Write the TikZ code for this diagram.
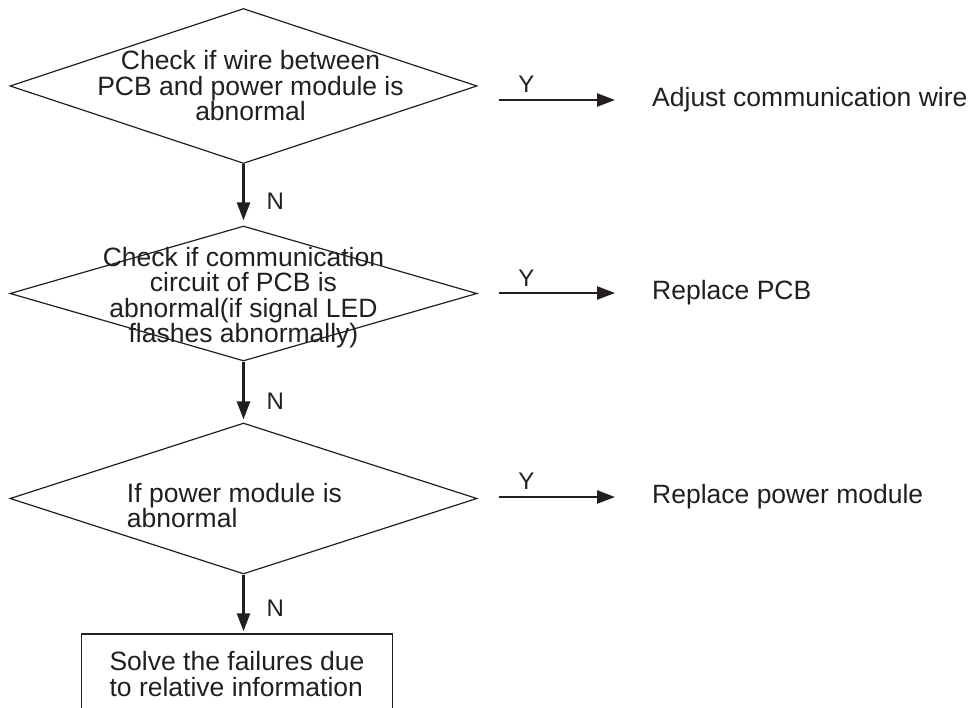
\documentclass[tikz,border=0pt]{standalone}
\usepackage{fontspec}
\setmainfont{Liberation Sans}
\usepackage{xcolor}
\usetikzlibrary{shapes.geometric,arrows.meta,positioning,calc}
\definecolor{ink}{RGB}{35,31,32}

\begin{document}
\begin{tikzpicture}[
  x=1pt, y=-1pt,
  every node/.style={font=\fontsize{26.5pt}{25.5pt}\selectfont, text=ink},
  decision/.style={draw=ink, diamond, line width=1.2pt, minimum width=467pt, inner sep=0pt},
  qtext/.style={align=center, inner sep=0pt},
  result/.style={draw=ink, rectangle, line width=1.5pt, minimum width=311pt, minimum height=80pt, align=left},
  action/.style={anchor=west, inner sep=0pt},
  flow/.style={->, >={Triangle[length=18pt,width=13pt]}, line width=2.4pt, draw=ink},
  tag/.style={font=\fontsize{24pt}{24pt}\selectfont, inner sep=2pt}
]
\clip (0,0) rectangle (973,707);
\node[decision, minimum height=155pt,
  label={[qtext, xshift=7pt]center:{Check if wire between\\PCB and power module is\\abnormal}}] (d1) at (243.5,86) {};
\node[decision, minimum height=135pt,
  label={[qtext, yshift=-4pt]center:{Check if communication\\circuit of PCB is\\abnormal(if signal LED\\flashes abnormally)}}] (d2) at (243.5,293.5) {};
\node[decision, minimum height=151pt,
  label={[qtext, align=left, xshift=-9pt, yshift=-7pt]center:{If power module is\\abnormal}}] (d3) at (243.5,498.5) {};
\node[result] (fix) at (237,674) {Solve the failures due\\to relative information};
\node[action] (a1) at (652,100) {Adjust communication wire};
\node[action] (a2) at (652,293) {Replace PCB};
\node[action] (a3) at (652,497) {Replace power module};
\draw[flow, shorten >=5pt] (d1.south) -- (d2.north) node[tag, right=20pt, pos=0.6] {N};
\draw[flow, shorten >=3pt] (d2.south) -- (d3.north) node[tag, right=20pt, pos=0.66] {N};
\draw[flow, shorten >=2pt] (d3.south) -- (d3.south |- fix.north) node[tag, right=20pt, pos=0.57] {N};
\draw[flow, shorten <=21pt, shorten >=37pt] (d1.east |- a1.west) -- (a1.west) node[tag, above=4pt, pos=0.28] {Y};
\draw[flow, shorten <=21pt, shorten >=37pt] (d2.east |- a2.west) -- (a2.west) node[tag, above=3pt, pos=0.28] {Y};
\draw[flow, shorten <=21pt, shorten >=37pt] (d3.east |- a3.west) -- (a3.west) node[tag, above=4pt, pos=0.28] {Y};
\end{tikzpicture}
\end{document}
